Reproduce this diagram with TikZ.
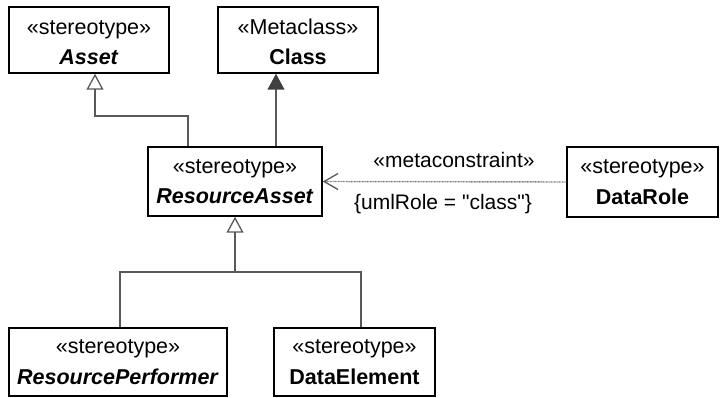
\documentclass[tikz,border=0pt]{standalone}
\usepackage{fontspec}
\setmainfont{Liberation Sans}
\setmonofont{Liberation Sans}
\usetikzlibrary{arrows.meta}
\definecolor{linegray}{HTML}{595959}
\definecolor{tipgray}{HTML}{404040}
\newcommand{\topstrut}{\rule{0pt}{19pt}}
\begin{document}
\begin{tikzpicture}[x=1pt,y=-1pt,
  box/.style={draw=black, line width=1.5pt, inner sep=0pt, align=center, text=black,
    font=\fontsize{21.5}{30.5}\selectfont},
  lbl/.style={inner sep=0pt, text=black, font=\fontsize{21}{24}\selectfont},
  conn/.style={draw=linegray, line width=1.5pt},
  gen/.style={conn, -{Triangle[open, length=16pt, width=17pt, line width=1.3pt]}},
  genfill/.style={conn, -{Triangle[length=16pt, width=17pt, fill=tipgray, color=tipgray]}},
  dep/.style={draw=gray, line width=1.4pt, dash pattern=on 1pt off 0.6pt,
    -{Straight Barb[length=14pt, width=16pt, line width=1.3pt, color=linegray]}}
]
\useasboundingbox (0,0) rectangle (721,398);

\node[box, minimum width=160pt, minimum height=66pt] (asset) at (89,40)
  {\topstrut«stereotype»\\\textbf{\textit{Asset}}};
\node[box, minimum width=160pt, minimum height=66pt] (class) at (298,40)
  {\topstrut«Metaclass»\\\textbf{Class}};
\node[box, minimum width=174pt, minimum height=69pt] (rasset) at (235,181.5)
  {«stereotype»\\\textbf{\textit{ResourceAsset}}};
\node[box, minimum width=151pt, minimum height=70pt] (drole) at (642.5,182)
  {«stereotype»\\\textbf{DataRole}};
\node[box, minimum width=218pt, minimum height=68pt] (rperf) at (118,362)
  {«stereotype»\\\textbf{\textit{ResourcePerformer}}};
\node[box, minimum width=161pt, minimum height=68pt] (delem) at (354.5,362)
  {«stereotype»\\\textbf{DataElement}};

\node[lbl, anchor=base] (mc) at (454,168) {«metaconstraint»};
\node[lbl, anchor=base] (ur) at (443,210) {\ttfamily\{umlRole = "class"\}};

\coordinate (split) at (235,272);

\draw[gen] ([xshift=-47pt]rasset.north) -- ++(0,-30) -| ([xshift=6pt]asset.south);
\draw[genfill] ([xshift=41pt]rasset.north) -- ([xshift=41pt]rasset.north |- class.south);
\draw[gen] (split) -- (rasset.south);
\draw[conn] ([xshift=2pt]rperf.north) |- (split) -| ([xshift=6.5pt]delem.north);
\draw[dep] (drole.west) -- (rasset.east);
\end{tikzpicture}
\end{document}
